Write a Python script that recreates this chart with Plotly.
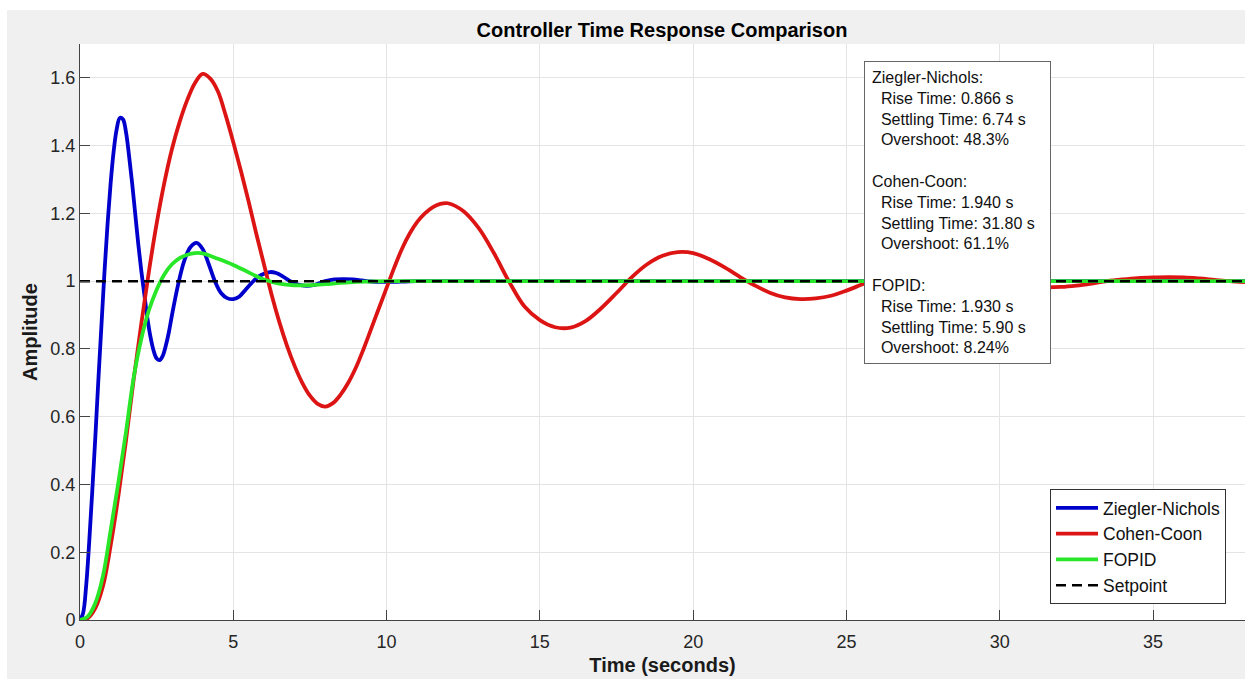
import plotly.graph_objects as go

# ---------------- data ----------------
t_zn = [0, 0.1, 0.2, 0.3, 0.4, 0.5, 0.6, 0.7, 0.8, 0.9, 1.0, 1.1, 1.2, 1.3, 1.4, 1.5, 1.6, 1.7,
        1.8, 1.9, 2.0, 2.1, 2.2, 2.3, 2.4, 2.5, 2.6, 2.7, 2.8, 2.9, 3.0, 3.2, 3.4, 3.6, 3.8,
        4.0, 4.2, 4.4, 4.6, 4.8, 5.0, 5.2, 5.4, 5.6, 5.8, 6.0, 6.2, 6.4, 6.6, 6.8, 7.0, 7.2,
        7.4, 7.6, 7.8, 8.0, 8.3, 8.6, 8.9, 9.2, 9.5, 9.8, 10.2, 10.6, 11, 12, 15, 20, 25, 30, 35, 38]
y_zn = [0, 0.02, 0.1, 0.23, 0.38, 0.54, 0.71, 0.87, 1.03, 1.17, 1.29, 1.385, 1.45, 1.482, 1.478,
        1.44, 1.37, 1.29, 1.2, 1.11, 1.03, 0.96, 0.89, 0.835, 0.795, 0.772, 0.767, 0.78, 0.81,
        0.85, 0.9, 0.99, 1.06, 1.1, 1.113, 1.095, 1.05, 1.0, 0.965, 0.95, 0.947, 0.955, 0.975,
        0.995, 1.012, 1.022, 1.027, 1.024, 1.015, 1.003, 0.993, 0.988, 0.986, 0.988, 0.994, 1.0,
        1.005, 1.006, 1.005, 1.002, 0.999, 0.998, 0.998, 0.999, 1.0, 1.0, 1.0, 1.0, 1.0, 1.0, 1.0, 1.0]

t_cc = [0, 0.25, 0.5, 0.75, 1.0, 1.25, 1.5, 1.75, 2.0, 2.25, 2.5, 2.75, 3.0, 3.25, 3.5, 3.75,
        4.0, 4.25, 4.5, 4.75, 5.0, 5.25, 5.5, 5.75, 6.0, 6.25, 6.5, 6.75, 7.0, 7.25, 7.5, 7.75,
        8.0, 8.25, 8.5, 8.75, 9.0, 9.25, 9.5, 9.75, 10.0, 10.25, 10.5, 10.75, 11.0, 11.25, 11.5,
        11.75, 12.0, 12.5, 13.0, 13.5, 14.0, 14.5, 15.0, 15.5, 16.0, 16.5, 17.0, 17.5, 18.0, 18.5,
        19.0, 19.5, 20.0, 20.5, 21.0, 21.5, 22.0, 22.5, 23.0, 23.5, 24.0, 24.5, 25.0,
        25.5, 26.0, 26.5, 27.0, 27.5, 28.0, 28.5, 29.0, 29.5, 30.0, 30.5, 31.0, 31.5, 32.0,
        32.5, 33.0, 33.5, 34.0, 34.5, 35.0, 35.5, 36.0, 36.5, 37.0, 37.5, 38.0]
y_cc = [0, 0.005, 0.035, 0.1, 0.22, 0.365, 0.53, 0.71, 0.875, 1.03, 1.17, 1.29, 1.39, 1.47,
        1.535, 1.585, 1.612, 1.598, 1.56, 1.49, 1.41, 1.325, 1.235, 1.14, 1.05, 0.96, 0.88, 0.81,
        0.75, 0.70, 0.662, 0.638, 0.63, 0.64, 0.665, 0.70, 0.745, 0.80, 0.86, 0.92, 0.98, 1.04,
        1.095, 1.14, 1.175, 1.20, 1.218, 1.228, 1.23, 1.207, 1.157, 1.083, 0.998, 0.925, 0.885,
        0.864, 0.863, 0.883, 0.92, 0.965, 1.012, 1.05, 1.075, 1.086, 1.083, 1.066, 1.042, 1.014,
        0.988, 0.966, 0.952, 0.947, 0.949, 0.957, 0.972, 0.99, 1.007, 1.02, 1.028, 1.03, 1.029,
        1.023, 1.013, 1.002, 0.992, 0.986, 0.983, 0.982, 0.983, 0.987, 0.993, 1.0, 1.005, 1.009,
        1.011, 1.012, 1.011, 1.008, 1.004, 1.0, 0.997]

t_fo = [0, 0.25, 0.5, 0.75, 1.0, 1.25, 1.5, 1.75, 2.0, 2.25, 2.5, 2.75, 3.0, 3.25, 3.5, 3.75,
        4.0, 4.5, 5.0, 5.5, 6.0, 6.5, 7.0, 7.5, 8.0, 8.5, 9.0, 9.5, 10, 12, 15, 20, 25, 30, 35, 38]
y_fo = [0, 0.01, 0.05, 0.13, 0.265, 0.405, 0.555, 0.715, 0.83, 0.915, 0.975, 1.02, 1.05, 1.068,
        1.078, 1.083, 1.082, 1.066, 1.048, 1.026, 1.005, 0.993, 0.988, 0.988, 0.991, 0.995, 0.998,
        0.999, 1.0, 1.0, 1.0, 1.0, 1.0, 1.0, 1.0, 1.0]

t_sp = [0, 38]
y_sp = [1, 1]

series_names = ["Ziegler-Nichols", "Cohen-Coon", "FOPID", "Setpoint"]
x_ticks = [0, 5, 10, 15, 20, 25, 30, 35]
y_ticks = [0, 0.2, 0.4, 0.6, 0.8, 1.0, 1.2, 1.4, 1.6]
y_tick_text = ["0", "0.2", "0.4", "0.6", "0.8", "1", "1.2", "1.4", "1.6"]

metrics_text = [
    "Ziegler-Nichols:",
    "&nbsp;&nbsp;Rise Time: 0.866 s",
    "&nbsp;&nbsp;Settling Time: 6.74 s",
    "&nbsp;&nbsp;Overshoot: 48.3%",
    "",
    "Cohen-Coon:",
    "&nbsp;&nbsp;Rise Time: 1.940 s",
    "&nbsp;&nbsp;Settling Time: 31.80 s",
    "&nbsp;&nbsp;Overshoot: 61.1%",
    "",
    "FOPID:",
    "&nbsp;&nbsp;Rise Time: 1.930 s",
    "&nbsp;&nbsp;Settling Time: 5.90 s",
    "&nbsp;&nbsp;Overshoot: 8.24%",
]

# ---------------- figure ----------------
FONT = "Liberation Sans, Arial, Helvetica, sans-serif"
LW = 3.8
fig = go.Figure()
fig.add_trace(go.Scatter(x=t_zn, y=y_zn, mode="lines", name=series_names[0],
                         line=dict(color="rgb(0,0,205)", width=LW, shape="spline", smoothing=1.0)))
fig.add_trace(go.Scatter(x=t_cc, y=y_cc, mode="lines", name=series_names[1],
                         line=dict(color="rgb(220,20,20)", width=LW, shape="spline", smoothing=1.0)))
fig.add_trace(go.Scatter(x=t_fo, y=y_fo, mode="lines", name=series_names[2],
                         line=dict(color="rgb(40,230,40)", width=LW, shape="spline", smoothing=1.0)))
fig.add_trace(go.Scatter(x=t_sp, y=y_sp, mode="lines", name=series_names[3],
                         line=dict(color="black", width=2.5, dash="10px,6px")))

W, H = 1245, 679
L, R, T, B = 80, 0, 44, 59
pw, ph = W - L - R, H - T - B

def px(xp):
    return (xp - L) / pw

def py(yp):
    return (H - B - yp) / ph

fig.update_layout(
    width=W, height=H,
    margin=dict(l=L, r=R, t=T, b=B),
    paper_bgcolor="#f0f0f0",
    plot_bgcolor="white",
    font=dict(family=FONT, size=18, color="#262626"),
    title=dict(text="<b>Controller Time Response Comparison</b>", x=px(662), xref="paper",
               xanchor="center", y=1 - 30 / H, yref="container", yanchor="middle",
               font=dict(family=FONT, size=20, color="black")),
    showlegend=True,
    legend=dict(x=px(1226), y=py(604), xanchor="right", yanchor="bottom",
                bgcolor="white", bordercolor="#333333", borderwidth=1, itemwidth=42,
                font=dict(family=FONT, size=17.5, color="#111111"), tracegroupgap=0),
    shapes=[
        dict(type="rect", xref="paper", yref="paper", x0=px(0), x1=px(W), y0=py(10), y1=py(0),
             fillcolor="white", line=dict(width=0), layer="below"),
        dict(type="rect", xref="paper", yref="paper", x0=px(0), x1=px(7), y0=py(H), y1=py(0),
             fillcolor="white", line=dict(width=0), layer="below"),
    ],
    annotations=[dict(text="<br>".join(metrics_text), xref="paper", yref="paper",
                      x=px(864), y=py(61), xanchor="left", yanchor="top", align="left",
                      width=171, showarrow=False, bgcolor="white", bordercolor="#666666",
                      borderwidth=1, borderpad=7, font=dict(family=FONT, size=16, color="#111111"))],
)

fig.update_xaxes(range=[0, 38], tickvals=x_ticks, ticks="inside", ticklen=10, tickcolor="#444",
                 showline=True, linecolor="#444", linewidth=1, showgrid=True, gridcolor="#e4e4e4",
                 zeroline=False, tickfont=dict(size=18, color="#262626"), ticklabelstandoff=5,
                 title=dict(text="<b>Time (seconds)</b>", font=dict(size=20, color="#1a1a1a"), standoff=7))
fig.update_yaxes(range=[0, 1.7], tickvals=y_ticks, ticktext=y_tick_text, ticks="inside", ticklen=10,
                 tickcolor="#444", showline=True, linecolor="#444", linewidth=1, showgrid=True,
                 gridcolor="#e4e4e4", zeroline=False, tickfont=dict(size=18, color="#262626"),
                 title=dict(text="<b>Amplitude</b>", font=dict(size=20, color="#1a1a1a"), standoff=7))

fig.write_html("out.html")
